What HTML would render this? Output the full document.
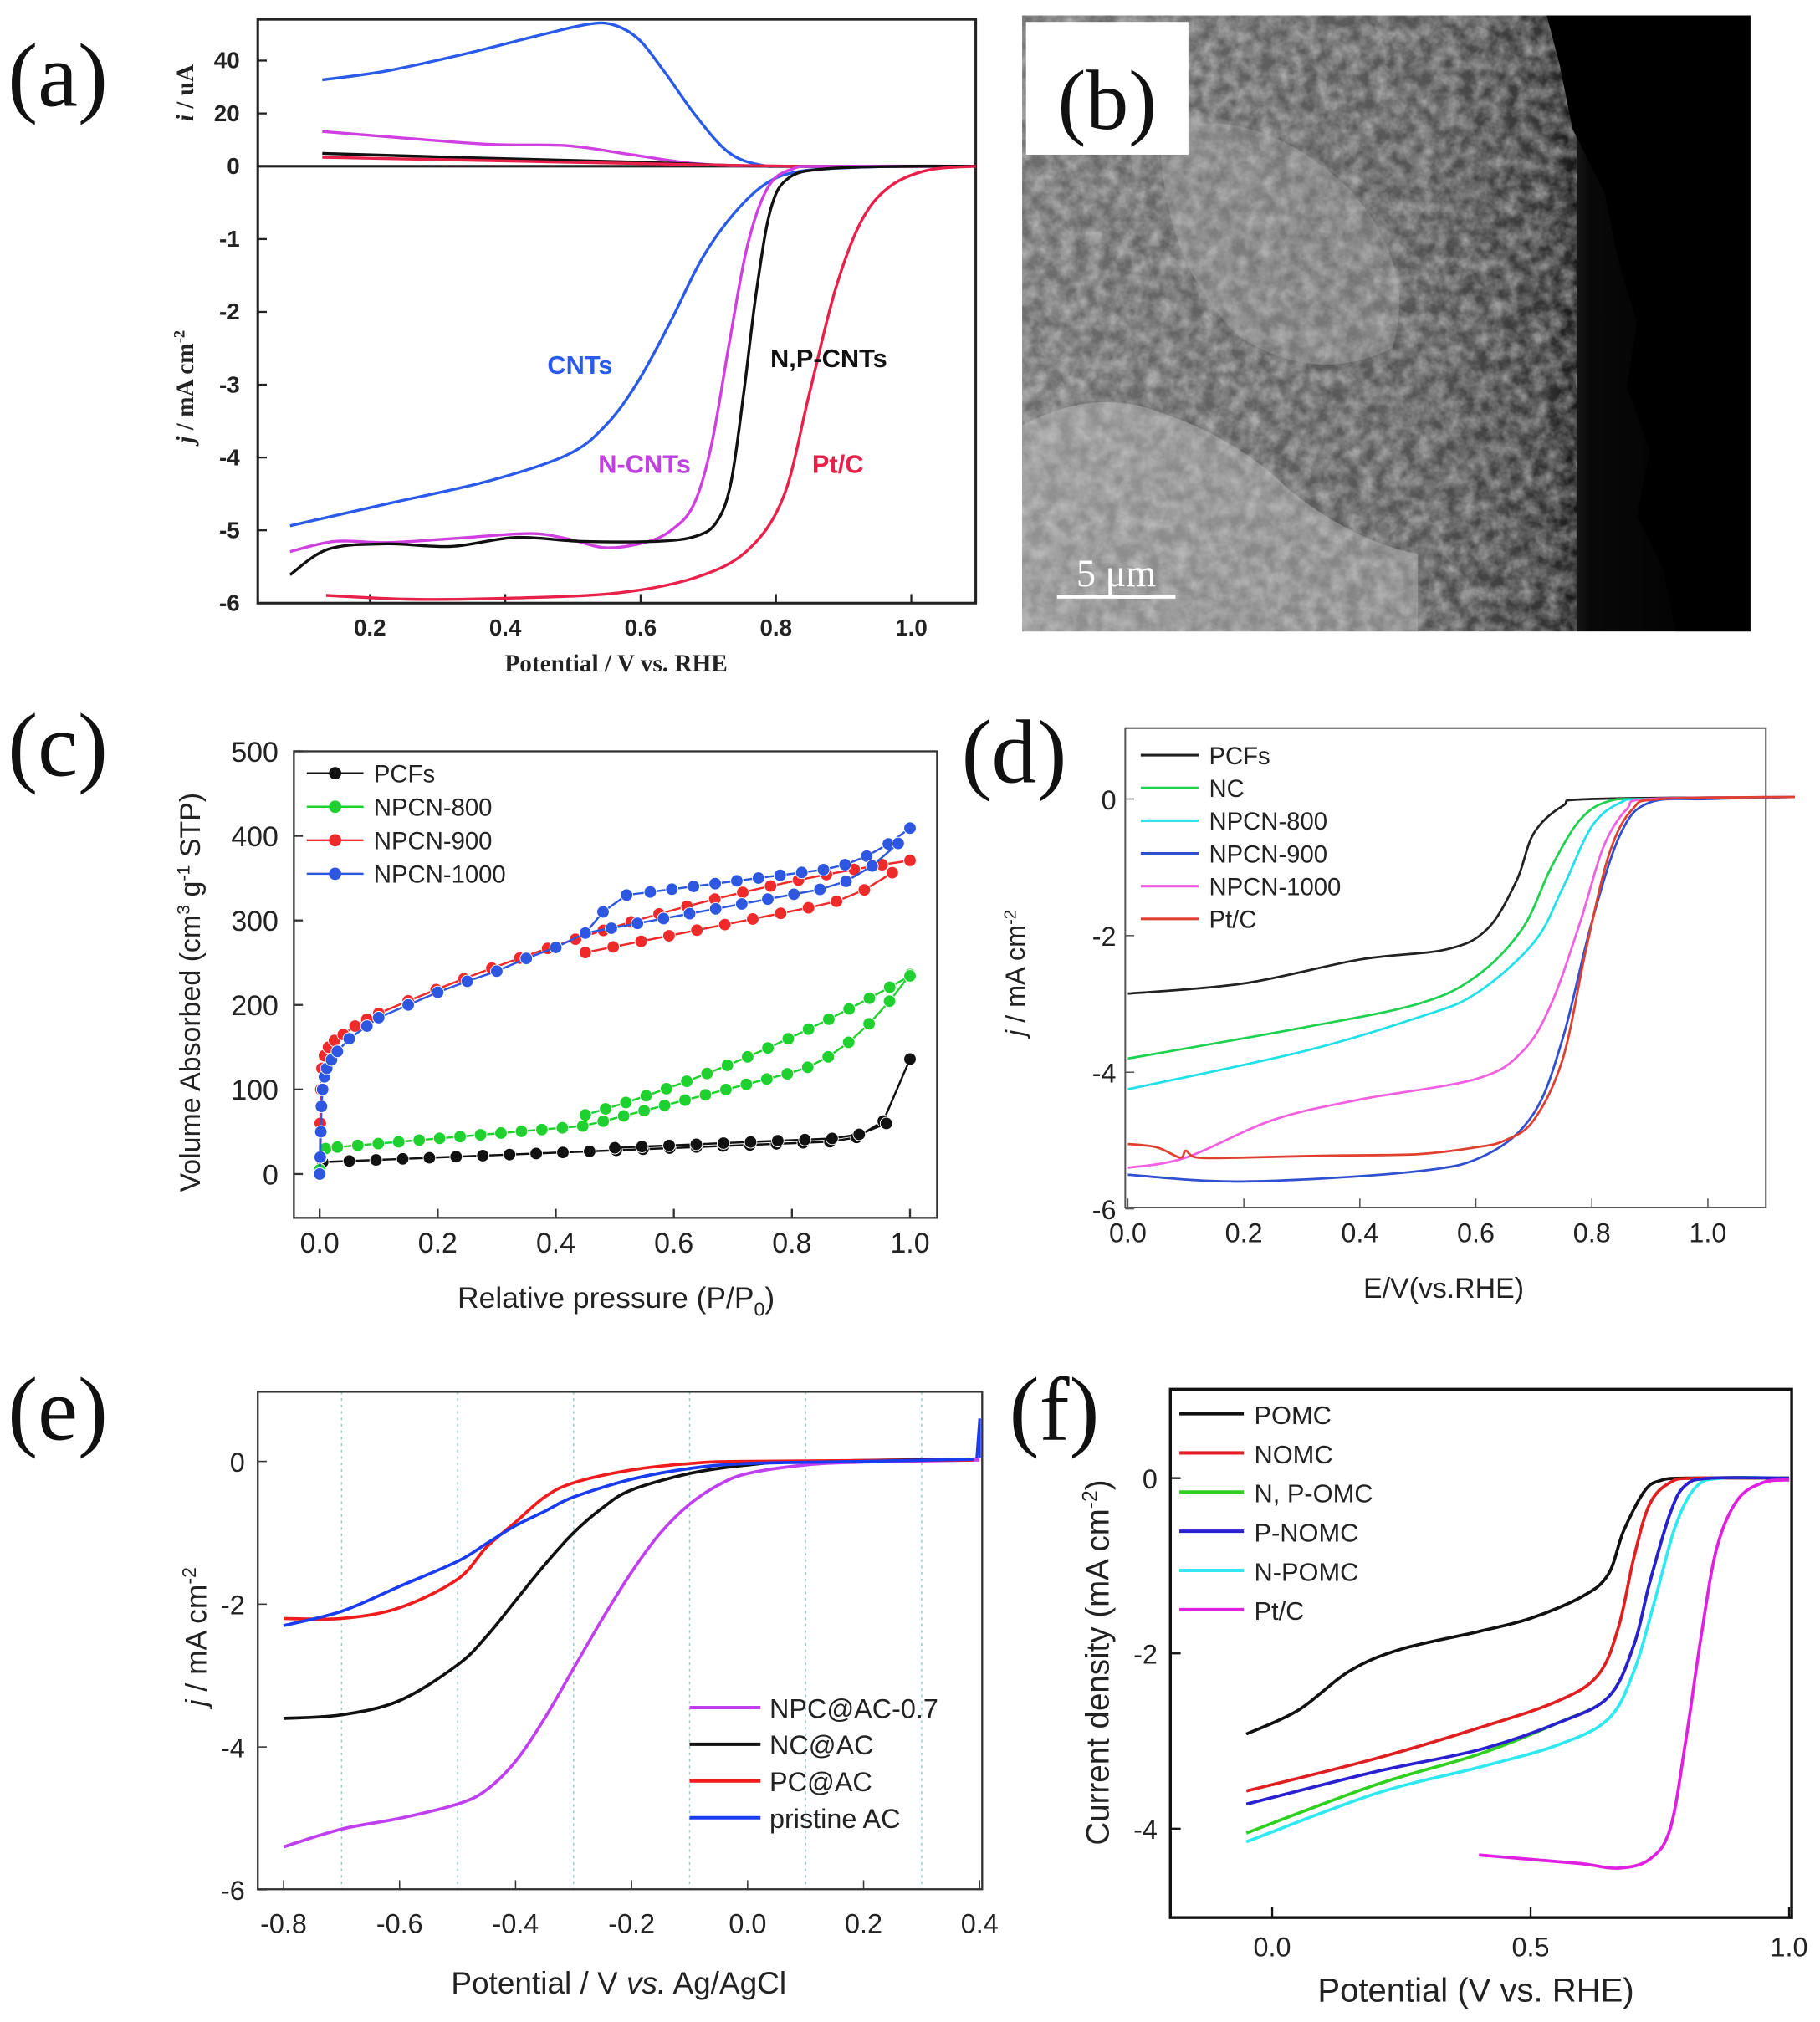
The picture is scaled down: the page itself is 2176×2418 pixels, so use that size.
<!DOCTYPE html>
<html><head><meta charset="utf-8">
<style>
html,body{margin:0;padding:0;background:#fff;}
svg{display:block;}
text{font-family:"Liberation Sans",sans-serif;}
.s{font-family:"Liberation Serif",serif;}
</style></head>
<body>
<svg id="c" width="2176" height="2418" viewBox="0 0 1412 1569" xmlns="http://www.w3.org/2000/svg">
<defs>
<filter id="tex" x="0" y="0" width="100%" height="100%">
<feTurbulence type="fractalNoise" baseFrequency="0.09" numOctaves="4" seed="3"/>
<feColorMatrix type="matrix" values="0 0 0 0 0.8  0 0 0 0 0.8  0 0 0 0 0.8  0 0 0 -1.6 1.2"/>
</filter>
<linearGradient id="sem" x1="0" y1="0" x2="1" y2="0">
<stop offset="0" stop-color="#6e6e6e"/><stop offset="0.55" stop-color="#555"/><stop offset="0.72" stop-color="#333"/><stop offset="0.78" stop-color="#080808"/><stop offset="1" stop-color="#000"/>
</linearGradient>
</defs>
<g id="g"></g>
</svg>
<script>
const NS="http://www.w3.org/2000/svg",G=document.getElementById('g');
function el(t,a,txt){const e=document.createElementNS(NS,t);for(const k in a)e.setAttribute(k,a[k]);if(txt!==undefined)e.textContent=txt;G.appendChild(e);return e;}
function txt(x,y,s,o){o=o||{};const e=el('text',Object.assign({x:x,y:y,'font-size':o.size||20,fill:o.fill||'#222','text-anchor':o.anchor||'middle'},o.attr||{}));e.innerHTML=s;if(o.rot)e.setAttribute('transform',`rotate(-90 ${x} ${y})`);if(o.serif)e.setAttribute('class','s');if(o.bold)e.setAttribute('font-weight','bold');return e;}
function smooth(p){let d=`M${p[0][0]},${p[0][1]}`;for(let i=0;i<p.length-1;i++){const p0=p[i-1]||p[i],p1=p[i],p2=p[i+1],p3=p[i+2]||p2;
d+=` C${p1[0]+(p2[0]-p0[0])/6},${p1[1]+(p2[1]-p0[1])/6} ${p2[0]-(p3[0]-p1[0])/6},${p2[1]-(p3[1]-p1[1])/6} ${p2[0]},${p2[1]}`;}return d;}
function curve(pts,col,w){el('path',{d:smooth(pts),fill:'none',stroke:col,'stroke-width':w||2.2,'stroke-linejoin':'round'});}
function lab(x,y,s){txt(x,y,s,{size:70,serif:true,anchor:'start',fill:'#111'});}

// ===== (a) =====
lab(6,82,'(a)');
el('rect',{x:200,y:15,width:557,height:453,fill:'none',stroke:'#222','stroke-width':2});
el('line',{x1:200,y1:129,x2:757,y2:129,stroke:'#222','stroke-width':2});
const ax=v=>287+(v-0.2)*525, ay=j=>129-j*56.5;
[[40,47],[20,88],[0,129]].forEach(([v,y])=>{el('line',{x1:200,y1:y,x2:207,y2:y,stroke:'#222','stroke-width':1.5});txt(186,y+6,v,{size:18,bold:true,anchor:'end'});});
for(let j=-1;j>=-6;j--){const y=ay(j);el('line',{x1:200,y1:y,x2:207,y2:y,stroke:'#222','stroke-width':1.5});txt(186,y+6,j,{size:18,bold:true,anchor:'end'});}
[0.2,0.4,0.6,0.8,1.0].forEach(v=>{const x=ax(v);el('line',{x1:x,y1:468,x2:x,y2:461,stroke:'#222','stroke-width':1.5});txt(x,493,v.toFixed(1),{size:18,bold:true});});
txt(478,521,'Potential / V vs. RHE',{size:19,bold:true,serif:true});
txt(150,300,'<tspan font-style="italic">j</tspan> / mA cm<tspan dy="-7" font-size="12">-2</tspan>',{size:19,bold:true,serif:true,rot:true});
txt(150,72,'<tspan font-style="italic">i</tspan> / uA',{size:19,bold:true,serif:true,rot:true});
curve([[250,62],[300,55],[360,42],[420,27],[455,19],[475,19],[495,30],[515,55],[540,90],[565,118],[590,128],[620,129],[757,129]],'#2a5be8');
curve([[250,102],[300,106],[380,112],[440,113],[490,120],[540,127],[600,129],[757,129]],'#d040e0');
curve([[250,119],[350,122],[500,126],[600,129],[757,129]],'#111');
curve([[250,122],[350,124],[500,127],[620,129],[757,129]],'#e8204a');
curve([[225,408],[300,391],[380,373],[440,353],[470,330],[495,296],[520,250],[545,200],[570,165],[595,142],[620,133],[660,130],[700,129]],'#2a5be8');
curve([[225,428],[260,420],[300,421],[350,418],[410,414],[440,418],[470,425],[500,421],[520,412],[538,392],[552,345],[566,265],[580,190],[596,145],[615,131],[640,129],[757,129]],'#d040e0');
curve([[225,446],[255,426],[300,422],[350,424],[400,417],[450,420],[510,420],[540,416],[556,405],[567,375],[577,305],[587,225],[598,162],[612,138],[640,131],[700,129],[757,129]],'#111');
curve([[253,462],[320,465],[400,464],[480,460],[540,448],[580,427],[608,385],[628,305],[648,225],[668,172],[690,145],[720,132],[757,129]],'#e8204a');
txt(450,290,'CNTs',{size:20,bold:true,fill:'#2a5be8'});
txt(643,285,'N,P-CNTs',{size:20,bold:true,fill:'#111'});
txt(500,367,'N-CNTs',{size:20,bold:true,fill:'#c040e0'});
txt(650,367,'Pt/C',{size:20,bold:true,fill:'#e8204a'});

// ===== (b) =====
el('rect',{x:793,y:12,width:565,height:478,fill:'url(#sem)'});
el('rect',{x:793,y:12,width:430,height:478,fill:'#000',filter:'url(#tex)',opacity:0.55});
el('path',{d:'M1200,12 L1358,12 L1358,490 L1300,490 L1290,440 L1270,400 L1280,350 L1262,300 L1270,250 L1255,200 L1245,150 L1220,100 L1210,50 Z',fill:'#000'});
el('path',{d:'M793,330 Q850,300 900,320 Q960,340 1000,380 Q1050,420 1100,430 L1100,490 L793,490 Z',fill:'#c8c8c8',opacity:0.4});
el('path',{d:'M900,100 Q980,80 1050,150 Q1100,210 1080,270 Q1020,300 960,260 Q900,200 900,100Z',fill:'#bbb',opacity:0.3});
el('rect',{x:796,y:17,width:126,height:103,fill:'#fff'});
txt(859,100,'(b)',{size:66,serif:true,fill:'#111'});
el('line',{x1:820,y1:463,x2:912,y2:463,stroke:'#fff','stroke-width':3});
txt(866,455,'5 μm',{size:30,serif:true,fill:'#fff'});

// ===== (c) =====
lab(6,602,'(c)');
el('rect',{x:228,y:583,width:499,height:362,fill:'none',stroke:'#333','stroke-width':1.5});
const cx=v=>248+v*458, cy=v=>911-v*0.656;
[0,100,200,300,400,500].forEach(v=>{const y=cy(v);el('line',{x1:228,y1:y,x2:235,y2:y,stroke:'#333','stroke-width':1.5});txt(216,y+8,v,{size:22,anchor:'end'});});
[0,0.2,0.4,0.6,0.8,1.0].forEach(v=>{const x=cx(v);el('line',{x1:x,y1:945,x2:x,y2:938,stroke:'#333','stroke-width':1.5});txt(x,972,v.toFixed(1),{size:22});});
txt(478,1015,'Relative pressure (P/P<tspan dy="6" font-size="15">0</tspan><tspan dy="-6">)</tspan>',{size:23});
txt(155,770,'Volume Absorbed (cm<tspan dy="-8" font-size="14">3</tspan><tspan dy="8"> g</tspan><tspan dy="-8" font-size="14">-1</tspan><tspan dy="8"> STP)</tspan>',{size:22,rot:true});
function series(fn,arr,col){const pts=arr.map(([p,v])=>[cx(p),cy(v)]);el('path',{d:'M'+pts.map(p=>p.join(',')).join(' L'),fill:'none',stroke:col,'stroke-width':1.6});pts.forEach(p=>el('circle',{cx:p[0],cy:p[1],r:4.8,fill:col,stroke:'#fff','stroke-width':0.6}));}
function gen(f,a,b,n){const r=[];for(let i=0;i<=n;i++){const p=a+(b-a)*i/n;r.push([p,f(p)]);}return r;}
series(0,gen(p=>14+28*p+ (p>0.9?(p-0.9)*400:0)+(p>0.97?(p-0.97)*1800:0),0.005,1,22),'#111');
series(0,gen(p=>16+30*p+(p>0.9?(p-0.9)*250:0),0.5,0.96,10),'#111');
series(0,[[0,5],[0.002,20],[0.01,30]].concat(gen(p=>30+60*p+(p>0.45?(p-0.45)*120+Math.pow(Math.max(0,p-0.8),2)*2000:0),0.03,1,28)),'#1ed12e');
series(0,gen(p=>70+ (p-0.45)*200 + Math.pow(p-0.45,2)*180,0.45,1,16),'#1ed12e');
series(0,[[0,0],[0.001,60],[0.002,100],[0.004,125],[0.008,140],[0.015,150],[0.025,158],[0.04,165],[0.06,175],[0.08,183],[0.1,190]].concat(gen(p=>190+(p-0.1)*300-Math.pow(p-0.1,2)*110,0.15,1,18)),'#ef2a2a');
series(0,gen(p=>262+(p-0.45)*140+Math.pow(Math.max(0,p-0.85),2)*1500,0.45,0.97,11),'#ef2a2a');
series(0,[[0,0],[0.001,20],[0.002,50],[0.003,80],[0.005,100],[0.008,115],[0.012,125],[0.02,135],[0.03,145],[0.05,160],[0.08,175],[0.1,185],[0.15,200],[0.2,215],[0.25,228],[0.3,240],[0.35,255],[0.4,268],[0.45,285],[0.48,310],[0.52,330]].concat(gen(p=>330+(p-0.52)*90+Math.pow(Math.max(0,p-0.85),2)*1600,0.56,1,12)),'#2d57e0');
series(0,gen(p=>285+(p-0.45)*130+Math.pow(Math.max(0,p-0.85),2)*2200,0.45,0.98,12),'#2d57e0');
[['PCFs','#111'],['NPCN-800','#1ed12e'],['NPCN-900','#ef2a2a'],['NPCN-1000','#2d57e0']].forEach(([n,c],i)=>{const y=600+i*26;el('line',{x1:238,y1:y,x2:282,y2:y,stroke:c,'stroke-width':1.6});el('circle',{cx:260,cy:y,r:4.8,fill:c});txt(290,y+7,n,{size:19,anchor:'start'});});

// ===== (d) =====
lab(746,607,'(d)');
el('rect',{x:873,y:565,width:497,height:372,fill:'none',stroke:'#555','stroke-width':1.3});
const dx=v=>875+v*450, dy=j=>620-j*53;
[0,-2,-4,-6].forEach(j=>{const y=dy(j);el('line',{x1:873,y1:y,x2:880,y2:y,stroke:'#555'});txt(866,y+8,j,{size:21,anchor:'end'});});
[0,0.2,0.4,0.6,0.8,1.0].forEach(v=>{const x=dx(v);el('line',{x1:x,y1:937,x2:x,y2:930,stroke:'#555'});txt(x,964,v.toFixed(1),{size:21});});
txt(1120,1007,'E/V(vs.RHE)',{size:22});
txt(795,755,'<tspan font-style="italic">j</tspan> / mA cm<tspan dy="-7" font-size="13">-2</tspan>',{size:21,rot:true});
function dc(arr,c){curve(arr.map(([v,j])=>[dx(v),dy(j)]),c,1.8);}
dc([[0,-2.85],[0.2,-2.7],[0.4,-2.35],[0.55,-2.2],[0.62,-1.9],[0.67,-1.2],[0.7,-0.5],[0.75,-0.1],[0.8,0],[1.15,0.03]],'#222');
dc([[0,-3.8],[0.3,-3.35],[0.5,-3.0],[0.6,-2.6],[0.68,-1.9],[0.73,-1.0],[0.78,-0.3],[0.83,-0.03],[0.9,0],[1.15,0.03]],'#20d050');
dc([[0,-4.25],[0.3,-3.7],[0.5,-3.2],[0.6,-2.85],[0.7,-2.1],[0.75,-1.3],[0.8,-0.4],[0.85,-0.05],[0.9,0],[1.15,0.03]],'#20e0e8');
dc([[0,-5.5],[0.2,-5.6],[0.5,-5.45],[0.62,-5.2],[0.7,-4.6],[0.75,-3.5],[0.8,-1.8],[0.85,-0.5],[0.9,-0.05],[1.0,0],[1.15,0.03]],'#3050d0');
dc([[0,-5.4],[0.1,-5.25],[0.25,-4.7],[0.4,-4.4],[0.6,-4.1],[0.68,-3.7],[0.73,-3.0],[0.78,-1.8],[0.82,-0.7],[0.86,-0.15],[0.9,0],[1.15,0.03]],'#f060e0');
dc([[0,-5.05],[0.05,-5.1],[0.09,-5.25],[0.1,-5.15],[0.12,-5.25],[0.2,-5.25],[0.35,-5.22],[0.5,-5.2],[0.6,-5.1],[0.65,-5.0],[0.7,-4.7],[0.75,-3.8],[0.79,-2.2],[0.83,-0.8],[0.87,-0.15],[0.92,0],[1.15,0.03]],'#e04030');
[['PCFs','#222'],['NC','#20d050'],['NPCN-800','#20e0e8'],['NPCN-900','#3050d0'],['NPCN-1000','#f060e0'],['Pt/C','#e04030']].forEach(([n,c],i)=>{const y=586+i*25.4;el('line',{x1:885,y1:y,x2:930,y2:y,stroke:c,'stroke-width':2});txt(938,y+7,n,{size:19,anchor:'start'});});

// ===== (e) =====
lab(6,1117,'(e)');
const ex=v=>220+(v+0.8)*450, ey=j=>1134-j*55.4;
[-0.7,-0.5,-0.3,-0.1,0.1,0.3].forEach(v=>el('line',{x1:ex(v),y1:1080,x2:ex(v),y2:1466,stroke:'#9cc','stroke-width':1,'stroke-dasharray':'2,3'}));
el('rect',{x:200,y:1080,width:562,height:386,fill:'none',stroke:'#333','stroke-width':1.5});
[0,-2,-4,-6].forEach(j=>{const y=ey(j);el('line',{x1:200,y1:y,x2:207,y2:y,stroke:'#333'});txt(190,y+8,j,{size:21,anchor:'end'});});
[-0.8,-0.6,-0.4,-0.2,0,0.2,0.4].forEach(v=>{const x=ex(v);el('line',{x1:x,y1:1466,x2:x,y2:1459,stroke:'#333'});txt(x,1500,v.toFixed(1),{size:21});});
txt(480,1547,'Potential / V <tspan font-style="italic">vs.</tspan> Ag/AgCl',{size:24});
txt(160,1270,'<tspan font-style="italic">j</tspan> / mA cm<tspan dy="-8" font-size="15">-2</tspan>',{size:23,rot:true});
function ec(arr,c){curve(arr.map(([v,j])=>[ex(v),ey(j)]),c,2.4);}
ec([[-0.8,-5.4],[-0.7,-5.15],[-0.6,-5.0],[-0.5,-4.8],[-0.45,-4.6],[-0.4,-4.2],[-0.35,-3.6],[-0.3,-2.9],[-0.25,-2.2],[-0.2,-1.55],[-0.15,-1.0],[-0.1,-0.6],[-0.05,-0.33],[0,-0.17],[0.1,-0.05],[0.2,-0.01],[0.4,0.02]],'#c040f0');
ec([[-0.8,-3.6],[-0.7,-3.55],[-0.6,-3.35],[-0.5,-2.85],[-0.45,-2.45],[-0.4,-1.95],[-0.35,-1.45],[-0.3,-1.0],[-0.25,-0.65],[-0.2,-0.4],[-0.1,-0.17],[0,-0.05],[0.1,0],[0.39,0.03]],'#111');
ec([[-0.8,-2.2],[-0.7,-2.2],[-0.6,-2.05],[-0.5,-1.65],[-0.45,-1.2],[-0.4,-0.85],[-0.35,-0.5],[-0.3,-0.3],[-0.2,-0.12],[-0.1,-0.03],[0,0],[0.39,0.02]],'#ee1c1c');
ec([[-0.8,-2.3],[-0.7,-2.1],[-0.6,-1.75],[-0.5,-1.4],[-0.45,-1.15],[-0.4,-0.9],[-0.35,-0.7],[-0.3,-0.5],[-0.2,-0.25],[-0.1,-0.1],[0,-0.03],[0.2,0],[0.39,0.03]],'#1a3cf0');
el('path',{d:`M${ex(0.395)},${ey(0.05)} L${ex(0.4)},${ey(0.6)} L${ex(0.4)},${ey(0.05)}`,stroke:'#1a3cf0',fill:'none','stroke-width':2});
[['NPC@AC-0.7','#c040f0'],['NC@AC','#111'],['PC@AC','#ee1c1c'],['pristine AC','#1a3cf0']].forEach(([n,c],i)=>{const y=1325+i*28.5;el('line',{x1:535,y1:y,x2:590,y2:y,stroke:c,'stroke-width':2.6});txt(597,y+8,n,{size:21,anchor:'start'});});

// ===== (f) =====
lab(783,1117,'(f)');
el('rect',{x:908,y:1078,width:482,height:410,fill:'none',stroke:'#111','stroke-width':2.2});
const fx=v=>987+v*401, fy=j=>1147-j*68;
[0,-2,-4].forEach(j=>{const y=fy(j);el('line',{x1:908,y1:y,x2:916,y2:y,stroke:'#111','stroke-width':1.5});txt(898,y+8,j,{size:21,anchor:'end'});});
[[0,'0.0'],[0.5,'0.5'],[1,'1.0']].forEach(([v,s])=>{const x=fx(v);el('line',{x1:x,y1:1488,x2:x,y2:1480,stroke:'#111','stroke-width':1.5});txt(x,1518,s,{size:21});});
txt(1145,1553,'Potential (V vs. RHE)',{size:26});
txt(860,1290,'Current density (mA cm<tspan dy="-9" font-size="16">-2</tspan><tspan dy="9">)</tspan>',{size:25,rot:true});
function fc(arr,c){curve(arr.map(([v,j])=>[fx(v),fy(j)]),c,2.4);}
fc([[-0.05,-2.92],[0.05,-2.65],[0.15,-2.2],[0.25,-1.95],[0.4,-1.75],[0.5,-1.6],[0.6,-1.35],[0.65,-1.1],[0.68,-0.6],[0.72,-0.15],[0.75,-0.03],[0.8,0],[1.0,0]],'#111');
fc([[-0.05,-3.57],[0.2,-3.2],[0.4,-2.85],[0.55,-2.55],[0.63,-2.25],[0.67,-1.7],[0.7,-0.9],[0.73,-0.3],[0.77,-0.05],[0.82,0],[1.0,0]],'#e02020');
fc([[-0.05,-4.15],[0.2,-3.6],[0.4,-3.3],[0.55,-3.05],[0.65,-2.75],[0.7,-2.2],[0.74,-1.4],[0.78,-0.55],[0.82,-0.1],[0.87,0],[1.0,0]],'#30e8f0');
fc([[-0.05,-4.05],[0.2,-3.5],[0.4,-3.15],[0.55,-2.8],[0.65,-2.5],[0.7,-1.9],[0.73,-1.2],[0.77,-0.4],[0.8,-0.08],[0.85,0],[1.0,0]],'#30d020');
fc([[-0.05,-3.72],[0.2,-3.35],[0.4,-3.1],[0.55,-2.8],[0.65,-2.5],[0.7,-1.9],[0.73,-1.2],[0.77,-0.4],[0.8,-0.08],[0.85,0],[1.0,0]],'#2a20d0');
fc([[0.4,-4.3],[0.5,-4.35],[0.6,-4.4],[0.67,-4.45],[0.73,-4.35],[0.77,-4.0],[0.8,-3.0],[0.83,-1.8],[0.86,-0.8],[0.9,-0.25],[0.95,-0.05],[1.0,-0.02]],'#e020e0');
[['POMC','#111'],['NOMC','#e02020'],['N, P-OMC','#30d020'],['P-NOMC','#2a20d0'],['N-POMC','#30e8f0'],['Pt/C','#e020e0']].forEach(([n,c],i)=>{const y=1097+i*30.4;el('line',{x1:915,y1:y,x2:965,y2:y,stroke:c,'stroke-width':2.6});txt(973,y+8,n,{size:20,anchor:'start'});});
</script>
</body></html>
